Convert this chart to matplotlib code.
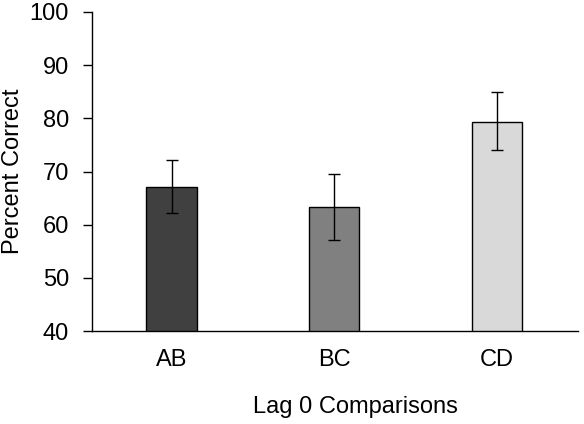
import numpy as np
import matplotlib.pyplot as plt

plt.rcParams['font.family'] = ['Liberation Sans', 'DejaVu Sans']

categories = ['AB', 'BC', 'CD']
means = [67.1, 63.3, 79.4]
err_low = [62.2, 57.1, 74.0]
err_high = [72.1, 69.5, 84.9]
colors = ['#404040', '#808080', '#d9d9d9']

means = np.array(means)
yerr = [means - np.array(err_low), np.array(err_high) - means]

fig = plt.figure(figsize=(5.84, 4.24), dpi=100)
ax = fig.add_axes([0.1575, 0.2193, 0.8325, 0.7524])

x = np.arange(len(categories))
ax.bar(x, means, width=0.31, color=colors, edgecolor='black', linewidth=1.0,
       yerr=yerr, capsize=4.3, error_kw=dict(elinewidth=1.0, capthick=1.0, ecolor='black'))

ax.set_ylim(40, 100)
ax.set_yticks(np.arange(40, 101, 10))
ax.set_xlim(-0.49, 2.5)
ax.set_xticks(x)
ax.set_xticklabels(categories)

for s in ['top', 'right']:
    ax.spines[s].set_visible(False)
ax.spines['left'].set_linewidth(1.0)
ax.spines['bottom'].set_linewidth(1.0)

ax.tick_params(axis='y', direction='out', length=6.5, width=1.0, labelsize=17, pad=10)
ax.tick_params(axis='x', length=0, labelsize=17, pad=13)

ax.set_ylabel('Percent Correct', fontsize=17)
ax.yaxis.set_label_coords(-0.14, 0.5)
ax.set_xlabel('Lag 0 Comparisons', fontsize=17, labelpad=18)
ax.xaxis.label.set_x(0.541)

plt.savefig('out.png', dpi=100)
